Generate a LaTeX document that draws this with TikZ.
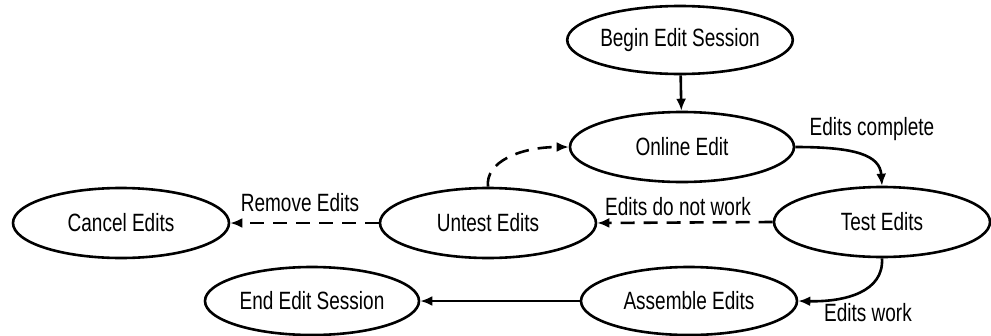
\documentclass[tikz,border=0pt]{standalone}
\usepackage{fontspec}
\setmainfont[FakeStretch=0.76]{Liberation Sans}
\usetikzlibrary{shapes.geometric,arrows.meta}
\begin{document}
\begin{tikzpicture}[x=1pt,y=-1pt,
  state/.style={ellipse,draw,line width=2.6pt,inner sep=0pt,minimum width=216pt,minimum height=68pt,font=\fontsize{25}{28}\selectfont},
  lbl/.style={font=\fontsize{25}{28}\selectfont,inner sep=0pt},
  conn/.style={line width=2.6pt,-{Latex[length=12pt,width=10pt]}},
  dashconn/.style={conn,dash pattern=on 14pt off 9pt}]
\useasboundingbox (0,0) rectangle (991,335);
\node[state] (begin) at (680,40) {Begin Edit Session};
\node[state,minimum width=224pt,minimum height=70pt] (online) at (682,147) {Online Edit};
\node[state,minimum height=70pt] (test) at (882,222) {Test Edits};
\node[state,minimum height=70pt] (untest) at (488,223) {Untest Edits};
\node[state,minimum height=70pt] (cancel) at (121,223) {Cancel Edits};
\node[state] (assemble) at (689,301) {Assemble Edits};
\node[state,minimum width=214pt] (end) at (312,301) {End Edit Session};
\draw[conn] (begin) -- (online);
\draw[conn] (online.east) .. controls (855,147) and (880,155) .. (test.north);
\draw[conn] (test.south) .. controls (884,292) and (845,302) .. (assemble.east);
\draw[dashconn] (test.west) -- (untest.east);
\draw[dashconn] (untest.west) -- (cancel.east);
\draw[dashconn] (untest.north) .. controls (485,162) and (520,147) .. (online.west);
\draw[conn] (assemble.west) -- (end.east);
\node[lbl] (lcomplete) at (872,129) {Edits complete};
\node[lbl] (lnotwork) at (678,207) {Edits do not work};
\node[lbl] (lremove) at (300,203) {Remove Edits};
\node[lbl] (lwork) at (868,313) {Edits work};
\end{tikzpicture}
\end{document}
